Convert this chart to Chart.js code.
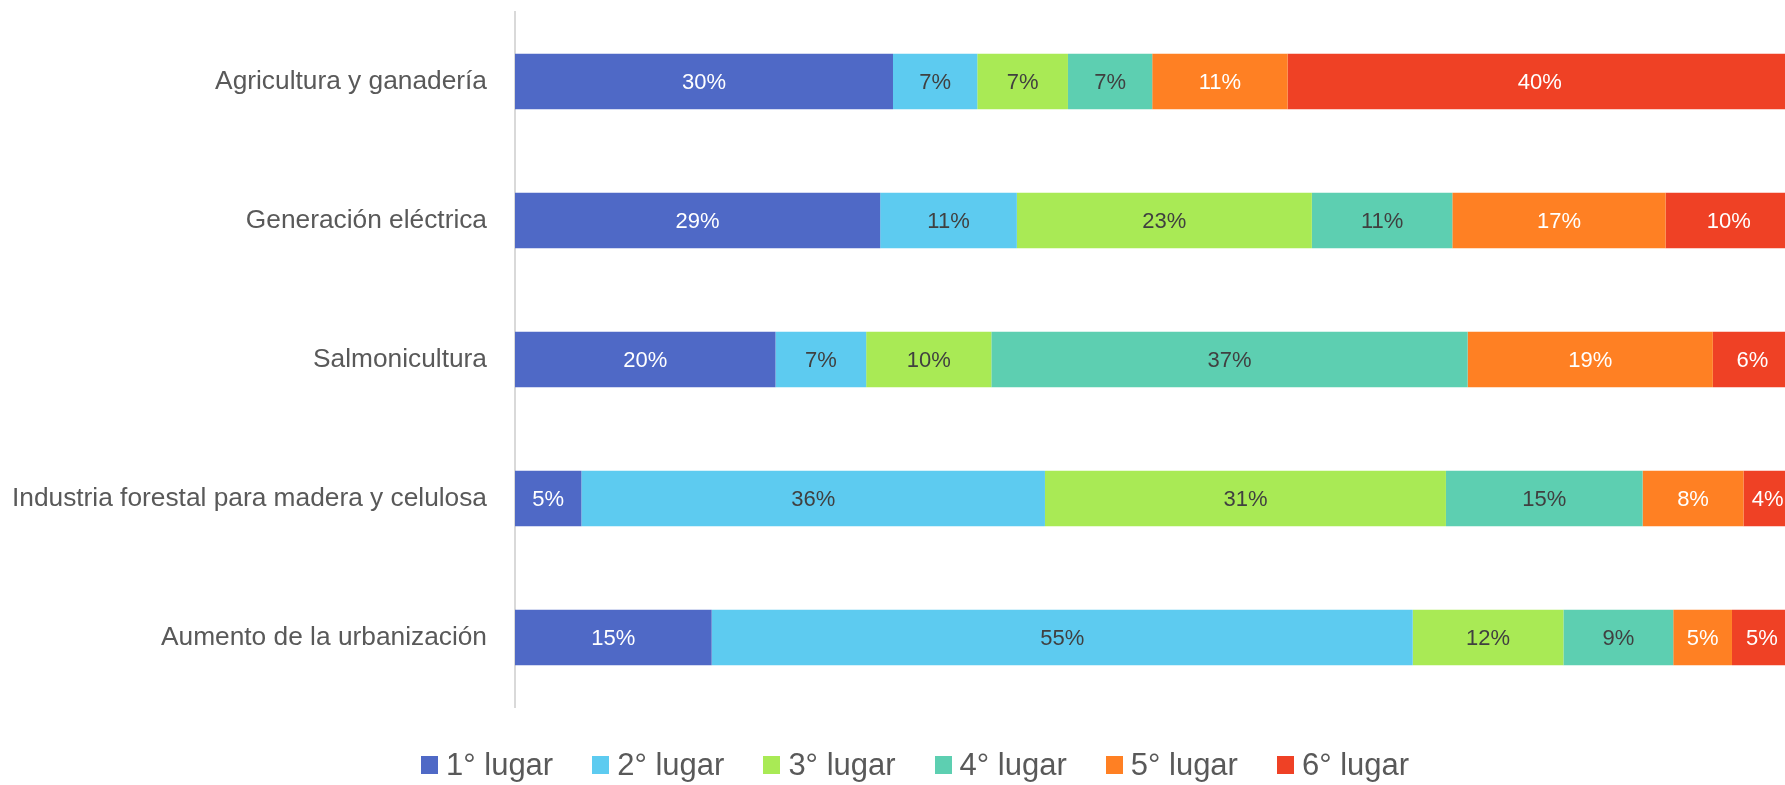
<!DOCTYPE html>
<html lang="es">
<head>
<meta charset="utf-8">
<title>Ranking por sector</title>
<script src="https://cdn.jsdelivr.net/npm/chart.js@4.4.1/dist/chart.umd.min.js"></script>
<style>
    html, body {
        margin: 0;
        padding: 0;
        background: #ffffff;
        overflow: hidden;
    }
    #wrap {
        position: relative;
        width: 1792px;
        height: 785px;
    }
    #legend {
        position: absolute;
        left: 421px;
        top: 747px;
        display: flex;
        gap: 39px;
        font-family: "Liberation Sans", Arial, sans-serif;
        font-size: 31px;
        color: #595959;
        white-space: nowrap;
    }
    .legend-item {
        display: flex;
        align-items: center;
    }
    .legend-box {
        width: 17px;
        height: 18px;
        margin-right: 8px;
    }
</style>
</head>
<body>
<div id="wrap">
    <canvas id="rankChart"></canvas>
    <div id="legend"></div>
</div>
<script>
// Categories (top to bottom)
const categories = [
    'Agricultura y ganadería',
    'Generación eléctrica',
    'Salmonicultura',
    'Industria forestal para madera y celulosa',
    'Aumento de la urbanización'
];

const seriesNames = ['1° lugar', '2° lugar', '3° lugar', '4° lugar', '5° lugar', '6° lugar'];

// Share of answers per rank (%), one value per category
const lugar1 = [29.6, 28.6, 20.4, 5.2, 15.4];
const lugar2 = [6.6, 10.7, 7.1, 36.3, 54.9];
const lugar3 = [7.1, 23.1, 9.8, 31.4, 11.8];
const lugar4 = [6.6, 11.0, 37.3, 15.4, 8.6];
const lugar5 = [10.6, 16.7, 19.2, 7.9, 4.6];
const lugar6 = [39.5, 9.9, 6.2, 3.8, 4.7];

const seriesValues = [lugar1, lugar2, lugar3, lugar4, lugar5, lugar6];

const barColors = ['#4F69C6', '#5DCBF0', '#A9EA55', '#5DCFB1', '#FF8023', '#EF4125'];
const labelColors = ['#ffffff', '#404040', '#404040', '#404040', '#ffffff', '#ffffff'];

Chart.defaults.font.family = '"Liberation Sans", Arial, sans-serif';

// Draw the percentage inside each segment
const barLabels = {
    id: 'barLabels',
    afterDatasetsDraw(chart) {
        const ctx = chart.ctx;
        ctx.save();
        ctx.font = '22px "Liberation Sans", Arial, sans-serif';
        ctx.textAlign = 'center';
        ctx.textBaseline = 'middle';
        chart.data.datasets.forEach((ds, i) => {
            const meta = chart.getDatasetMeta(i);
            meta.data.forEach((bar, j) => {
                ctx.fillStyle = labelColors[i];
                ctx.fillText(Math.round(ds.data[j]) + '%', (bar.x + bar.base) / 2, bar.y + 1);
            });
        });
        ctx.restore();
    }
};

const ctx = document.getElementById('rankChart').getContext('2d');

const chart = new Chart(ctx, {
    type: 'bar',
    data: {
        labels: categories,
        datasets: seriesNames.map((name, i) => ({
            label: name,
            data: seriesValues[i],
            backgroundColor: barColors[i],
            borderWidth: 0,
            barPercentage: 0.4,
            categoryPercentage: 1
        }))
    },
    options: {
        indexAxis: 'y',
        responsive: true,
        maintainAspectRatio: false,
        animation: false,
        layout: {
            padding: { top: 12, bottom: 78, left: 0, right: 0 }
        },
        scales: {
            x: {
                stacked: true,
                min: 0,
                max: 100,
                display: false
            },
            y: {
                stacked: true,
                grid: { display: false },
                border: { display: true, color: '#d9d9d9', width: 2 },
                ticks: {
                    color: '#595959',
                    font: { size: 26.3 },
                    padding: 20
                },
                afterFit: function(scale) {
                    // fixed axis position, no extra room above/below the bars
                    scale.width = 515;
                    scale.paddingTop = 0;
                    scale.paddingBottom = 0;
                }
            }
        },
        plugins: {
            legend: { display: false },
            tooltip: { enabled: false }
        }
    },
    plugins: [barLabels]
});

// Legend built from the chart's datasets
const legendDiv = document.getElementById('legend');
chart.data.datasets.forEach(ds => {
    const item = document.createElement('div');
    item.className = 'legend-item';
    const box = document.createElement('span');
    box.className = 'legend-box';
    box.style.background = ds.backgroundColor;
    const text = document.createElement('span');
    text.textContent = ds.label;
    item.appendChild(box);
    item.appendChild(text);
    legendDiv.appendChild(item);
});
</script>
</body>
</html>
